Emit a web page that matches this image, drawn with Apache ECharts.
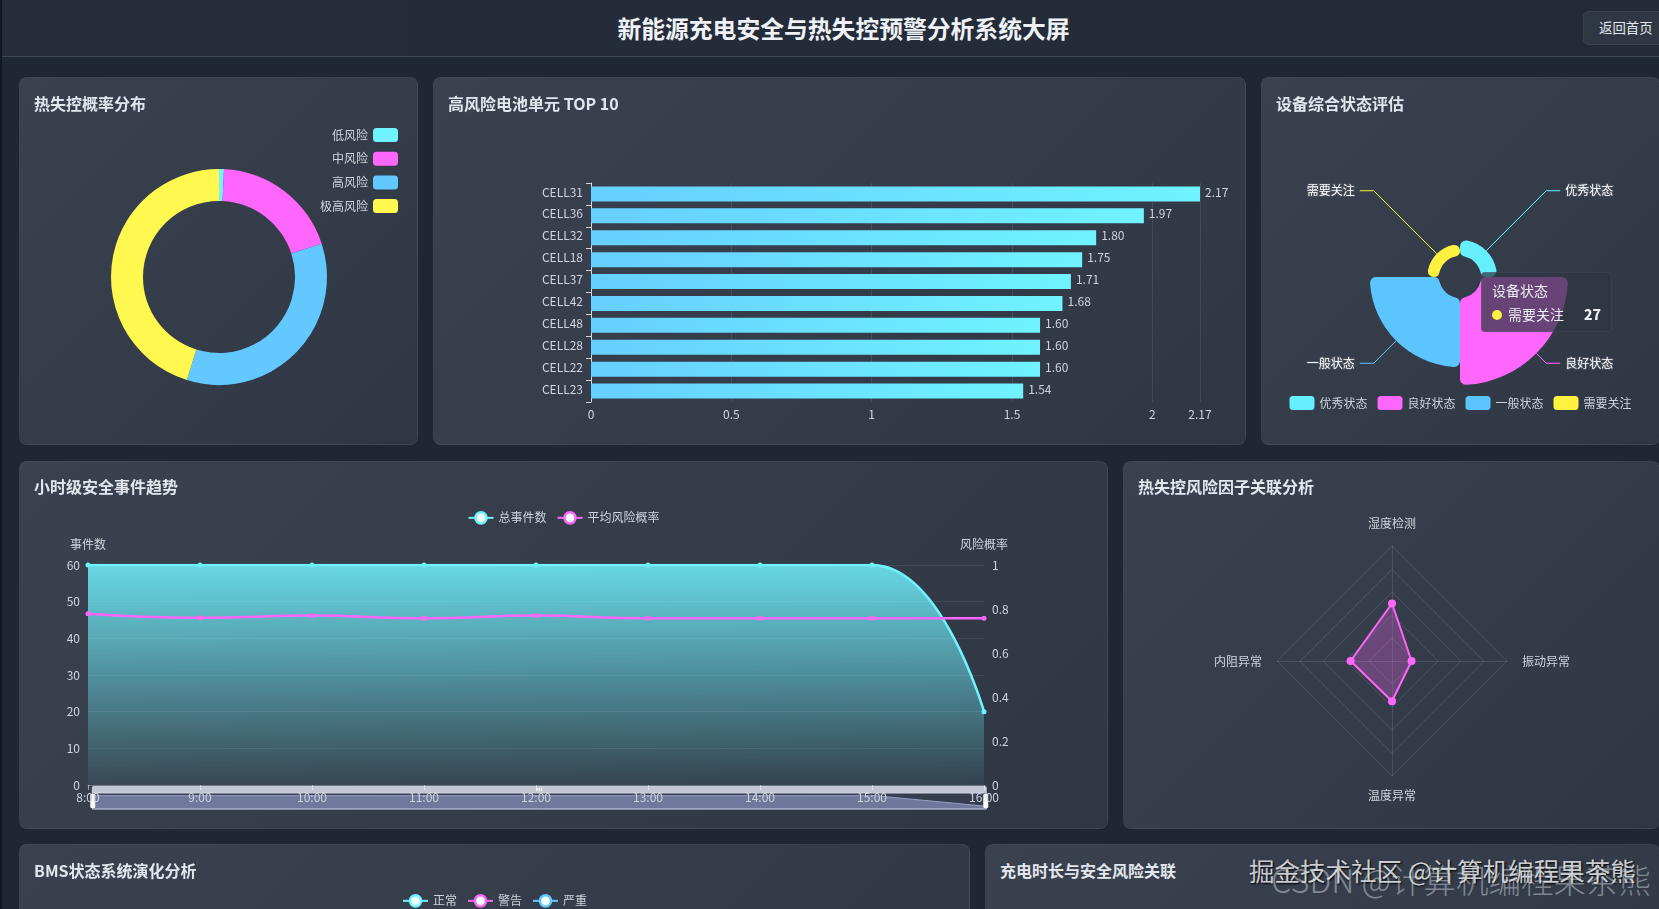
<!DOCTYPE html>
<html lang="zh"><head><meta charset="utf-8">
<script src="https://cdn.jsdelivr.net/npm/echarts@6/dist/echarts.min.js"></script>
<style>
html,body{margin:0;padding:0;width:1659px;height:909px;overflow:hidden;background:#1f2733;font-family:"Noto Sans CJK SC","Noto Sans",sans-serif}
#strip{position:absolute;left:0;top:0;width:2px;height:909px;background:#12181f}
#head{position:absolute;left:2px;top:0;width:1657px;height:57px;background:linear-gradient(90deg,#252c3a,#232b38);border-bottom:1px solid #3b4755;box-sizing:border-box}
#head h1{margin:0;position:absolute;left:0;width:1683px;top:0;line-height:55px;text-align:center;font-size:23.8px;font-weight:700;color:#eef1f5}
#back{position:absolute;left:1583px;top:11px;width:90px;height:34px;box-sizing:border-box;background:#2f3743;border:1px solid #39424e;border-radius:5px;color:#e4e8ee;font-size:13.4px;line-height:31px;padding-left:15px}
.panel{position:absolute;box-sizing:border-box;border-radius:8px;background:linear-gradient(135deg,#3a424f,#2f3745);border:1px solid rgba(255,255,255,.05)}
.panel h3{position:absolute;left:14px;top:13px;margin:0;font-size:16px;line-height:24px;font-weight:700;color:#e3e7ed;z-index:2}
.panel h3.r2{top:12px}
.chart{position:absolute;left:-1px;top:-1px}
.wm{position:absolute;white-space:nowrap;z-index:9}
</style></head><body>
<div id="strip"></div>
<div id="head"><h1>新能源充电安全与热失控预警分析系统大屏</h1></div>
<div id="back">返回首页</div>

<div class="panel" style="left:19px;top:77px;width:399px;height:368px"><h3>热失控概率分布</h3><div class="chart" id="c1" style="width:399px;height:368px"></div></div>
<div class="panel" style="left:433px;top:77px;width:813px;height:368px"><h3>高风险电池单元 TOP 10</h3><div class="chart" id="c2" style="width:813px;height:368px"></div></div>
<div class="panel" style="left:1261px;top:77px;width:399px;height:368px"><h3>设备综合状态评估</h3><div class="chart" id="c3" style="width:399px;height:368px"></div></div>
<div class="panel" style="left:19px;top:461px;width:1089px;height:368px"><h3 class="r2">小时级安全事件趋势</h3><div class="chart" id="c4" style="width:1089px;height:368px"></div></div>
<div class="panel" style="left:1123px;top:461px;width:537px;height:368px"><h3 class="r2">热失控风险因子关联分析</h3><div class="chart" id="c5" style="width:537px;height:368px"></div></div>
<div class="panel" style="left:19px;top:844px;width:951px;height:368px"><h3>BMS状态系统演化分析</h3><div class="chart" id="c6" style="width:951px;height:368px"></div></div>
<div class="panel" style="left:985px;top:844px;width:675px;height:368px"><h3>充电时长与安全风险关联</h3></div>

<div class="wm" style="left:1249px;top:854px;font-size:25.5px;line-height:32px;color:rgba(235,238,242,.85);text-shadow:1px 1px 2px #000">掘金技术社区 @计算机编程果茶熊</div>
<div class="wm" style="left:1271px;top:857px;font-size:32.5px;line-height:44px;font-weight:300;color:rgba(225,230,236,.45)">CSDN @计算机编程果茶熊</div>

<script>
const FONT = '"Noto Sans CJK SC","Noto Sans",sans-serif';
const CYAN = '#70f3ff', MAGENTA = '#ff66fb', BLUE = '#62c8ff', YELLOW = '#fff94f';
const TXT = '#cfd4db';

const riskNames = ['低风险', '中风险', '高风险', '极高风险'];
const riskValues = [1, 26, 47, 61];

const cellNames = ['CELL31', 'CELL36', 'CELL32', 'CELL18', 'CELL37', 'CELL42', 'CELL48', 'CELL28', 'CELL22', 'CELL23'];
const cellValues = [2.17, 1.97, 1.80, 1.75, 1.71, 1.68, 1.60, 1.60, 1.60, 1.54];

const stateNames = ['优秀状态', '良好状态', '一般状态', '需要关注'];
const stateValues = [37, 200, 159, 27];

const hours = ['8:00', '9:00', '10:00', '11:00', '12:00', '13:00', '14:00', '15:00', '16:00'];
const totalEvents = [60, 60, 60, 60, 60, 60, 60, 60, 20];
const avgRisk = [0.778, 0.76, 0.77, 0.758, 0.77, 0.758, 0.758, 0.758, 0.758];

const factorNames = ['湿度检测', '内阻异常', '温度异常', '振动异常'];
const factorValues = [0.5, 0.36, 0.35, 0.17];

const bmsNames = ['正常', '警告', '严重'];

function lineLegend(names, colors) {
  return {top: 45, left: 'center', itemWidth: 25, itemHeight: 14, itemGap: 10,
    textStyle: {color: TXT, fontSize: 12},
    data: names.map((n, i) => ({name: n, itemStyle: {color: '#eefcfd', borderColor: colors[i], borderWidth: 2.5}}))};
}

function mk(id, opt) {
  const c = echarts.init(document.getElementById(id), null, {renderer: 'canvas'});
  c.setOption(Object.assign({animation: false, backgroundColor: 'transparent', textStyle: {fontFamily: FONT}}, opt));
  return c;
}

mk('c1', {
  color: [CYAN, MAGENTA, BLUE, YELLOW],
  legend: {orient: 'vertical', right: 15, top: 46, align: 'right', itemWidth: 25, itemHeight: 14, itemGap: 9.7,
    textStyle: {color: TXT, fontSize: 12}, data: riskNames},
  series: [{type: 'pie', center: [200, 200], radius: [76, 108], label: {show: false}, labelLine: {show: false},
    data: riskNames.map((n, i) => ({name: n, value: riskValues[i]}))}]
});

mk('c2', {
  grid: {left: 158, right: 46, top: 106, height: 219},
  xAxis: {type: 'value', min: 0, max: 'dataMax', interval: 0.5, position: 'bottom',
    axisLine: {show: false}, axisTick: {show: false},
    axisLabel: {color: TXT, fontSize: 12, margin: 6, hideOverlap: false},
    splitLine: {lineStyle: {color: 'rgba(255,255,255,.09)'}}},
  yAxis: {type: 'category', inverse: true, data: cellNames,
    axisLine: {lineStyle: {color: '#d4d8de'}}, axisTick: {show: true, lineStyle: {color: '#d4d8de'}, length: 5},
    axisLabel: {color: TXT, fontSize: 12, margin: 8, verticalAlign: 'bottom', lineHeight: 4}},
  series: [{type: 'bar', data: cellValues, barWidth: 15,
    itemStyle: {color: new echarts.graphic.LinearGradient(0, 0, 1, 0, [{offset: 0, color: '#66cfff'}, {offset: 1, color: CYAN}])},
    label: {show: true, position: 'right', distance: 5, color: TXT, fontSize: 12, offset: [0, -2], formatter: p => p.value.toFixed(2)}}]
});

const c3 = mk('c3', {
  color: ['#66f0ff', MAGENTA, '#5cc5ff', '#fff13f'],
  legend: {bottom: 30, left: 'center', itemWidth: 25, itemHeight: 14, itemGap: 10,
    textStyle: {color: TXT, fontSize: 12}, data: stateNames},
  tooltip: {trigger: 'item', alwaysShowContent: true, position: [220, 195], transitionDuration: 0,
    backgroundColor: 'rgba(46,54,67,.72)', borderColor: 'rgba(255,255,255,.05)', borderWidth: 1,
    textStyle: {color: '#eceff3', fontSize: 14}, extraCssText: 'box-shadow:none;'},
  series: [{type: 'pie', name: '设备状态', roseType: 'area', center: [199, 200], radius: [21, 108],
    avoidLabelOverlap: false, itemStyle: {borderRadius: 6},
    label: {color: '#fff', fontSize: 12, textBorderColor: '#4a515c', textBorderWidth: 2},
    labelLine: {length: 14, length2: 14, lineStyle: {width: 1}},
    data: stateNames.map((n, i) => ({name: n, value: stateValues[i]}))}]
});
c3.dispatchAction({type: 'showTip', seriesIndex: 0, dataIndex: 3});

mk('c4', {
  color: [CYAN, MAGENTA],
  legend: lineLegend(['总事件数', '平均风险概率'], [CYAN, MAGENTA]),
  grid: {left: 69, right: 124, top: 104, height: 220},
  xAxis: {type: 'category', boundaryGap: false, data: hours,
    axisLine: {lineStyle: {color: 'rgba(255,255,255,.25)'}},
    axisTick: {show: true, lineStyle: {color: 'rgba(255,255,255,.5)'}},
    axisLabel: {color: TXT, fontSize: 12, margin: 6, interval: 0}},
  yAxis: [
    {type: 'value', name: '事件数', min: 0, max: 60, interval: 10, nameGap: 15,
      nameTextStyle: {color: TXT, fontSize: 12}, axisLabel: {color: TXT, fontSize: 12},
      axisLine: {show: false}, axisTick: {show: false},
      splitLine: {lineStyle: {color: 'rgba(255,255,255,.08)'}}},
    {type: 'value', name: '风险概率', min: 0, max: 1, interval: 0.2, nameGap: 15,
      nameTextStyle: {color: TXT, fontSize: 12}, axisLabel: {color: TXT, fontSize: 12},
      axisLine: {show: false}, axisTick: {show: false}, splitLine: {show: false}}
  ],
  dataZoom: [{type: 'slider', xAxisIndex: 0, left: 70, right: 124, top: 325, height: 17, start: 0, end: 100, zlevel: -1,
    showDetail: false, handleIcon: 'path://M0,0H4V13H0Z', handleSize: '75%',
    handleStyle: {color: '#fff', borderColor: '#fff'},
    moveHandleSize: 7, moveHandleStyle: {color: '#d0d7e2', opacity: .9},
    borderColor: '#ccd4e4', backgroundColor: 'rgba(40,48,62,.5)', fillerColor: 'rgba(120,130,170,.12)',
    dataBackground: {lineStyle: {color: '#9aa6cc', width: .5}, areaStyle: {color: '#7a83a8', opacity: .8}},
    selectedDataBackground: {lineStyle: {color: '#9aa6cc', width: 1}, areaStyle: {color: '#7a83a8', opacity: .85}}}],
  series: [
    {name: '总事件数', type: 'line', smooth: true, data: totalEvents, symbol: 'circle', symbolSize: 5, lineStyle: {width: 2.5},
      areaStyle: {opacity: 1, color: new echarts.graphic.LinearGradient(0, 0, 0, 1, [{offset: 0, color: 'rgba(112,243,255,.85)'}, {offset: 1, color: 'rgba(112,243,255,.05)'}])}},
    {name: '平均风险概率', type: 'line', smooth: true, yAxisIndex: 1, data: avgRisk, symbol: 'circle', symbolSize: 5, lineStyle: {width: 2.5}}
  ]
});

mk('c5', {
  radar: {center: [269, 200], radius: 115, startAngle: 90, splitNumber: 5, nameGap: 13,
    indicator: factorNames.map(n => ({name: n, min: 0, max: 1})),
    axisName: {color: TXT, fontSize: 12, padding: [0, 2, 4, 2]},
    axisLine: {lineStyle: {color: 'rgba(255,255,255,.11)'}},
    splitLine: {lineStyle: {color: 'rgba(255,255,255,.11)'}},
    splitArea: {show: false}},
  series: [{type: 'radar', data: [{value: factorValues, name: '风险因子'}], symbol: 'circle', symbolSize: 8,
    itemStyle: {color: MAGENTA}, lineStyle: {color: MAGENTA, width: 2}, areaStyle: {color: 'rgba(255,102,251,.38)'}}]
});

mk('c6', {
  color: [CYAN, MAGENTA, BLUE],
  legend: lineLegend(bmsNames, [CYAN, MAGENTA, BLUE]),
  grid: {left: 69, right: 60, top: 104, bottom: 40},
  xAxis: {type: 'category', show: false, data: []},
  yAxis: {type: 'value', show: false},
  series: bmsNames.map(n => ({name: n, type: 'line', symbol: 'circle', data: []}))
});
</script>
</body></html>
